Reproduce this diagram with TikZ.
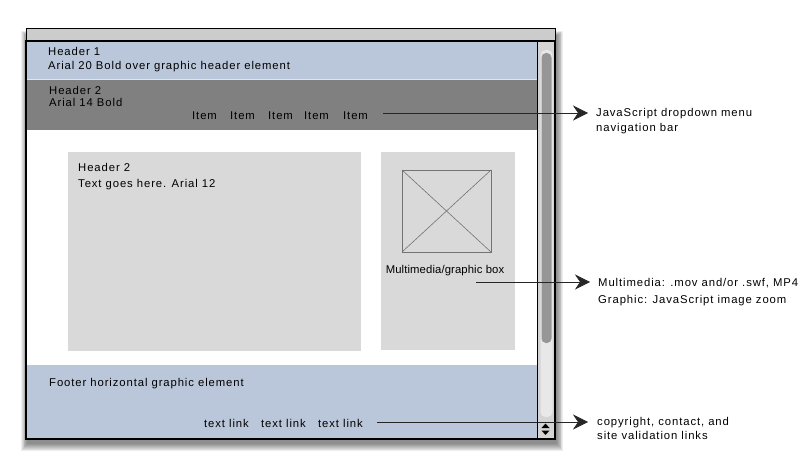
\documentclass[tikz,border=0pt]{standalone}
\usepackage{fontspec}
\setmainfont{Liberation Sans}[LetterSpace=8]
\newfontfamily\tightfont{Liberation Sans}[LetterSpace=1]
\usetikzlibrary{arrows.meta}
\definecolor{hdrblue}{RGB}{186,199,218}
\definecolor{navgray}{RGB}{128,128,128}
\definecolor{boxgray}{RGB}{217,217,217}
\definecolor{titlegray}{RGB}{204,204,204}
\definecolor{scrollbg}{RGB}{212,212,212}
\definecolor{groove}{RGB}{232,232,232}
\definecolor{thumb}{RGB}{150,150,150}
\begin{document}
\begin{tikzpicture}[x=1pt,y=-1pt,
  lbl/.style={anchor=base west, inner sep=0pt, font=\fontsize{11.3}{13}\selectfont},
  clbl/.style={anchor=base, inner sep=0pt, font=\fontsize{11.3}{13}\selectfont\tightfont},
  arr/.style={draw=black!85, line width=0.7pt, -{Stealth[length=15pt,width=15pt,inset=5pt]}},
  shadowlayer/.style={fill=black, opacity=0.07}]
\useasboundingbox (0,0) rectangle (804,468);
% shadow
\foreach \k in {1,...,8}{
  \fill[shadowlayer] (27.5-0.8*\k,36-0.6*\k) rectangle (556.5+0.8*\k,443+\k);
}
% window body and title bar
\fill[white] (26,41) rectangle (555,439);
\draw[fill=titlegray, line width=1pt] (26,29) rectangle (555,41);
% header bands
\fill[hdrblue] (27,41) rectangle (537,79);
\fill[navgray] (27,79) rectangle (537,130);
\draw[white!80!navgray, line width=0.5pt] (27,79.5) -- (537,79.5);
\fill[hdrblue] (27,365) rectangle (537,438);
% content boxes
\fill[boxgray] (68,152) rectangle (361,351);
\fill[boxgray] (381,152) rectangle (515,350);
\draw[black!55, line width=0.6pt] (402,170) rectangle (491,252);
\draw[black!55, line width=0.6pt] (402,170) -- (491,252) (402,252) -- (491,170);
% scrollbar
\fill[scrollbg] (537,41) rectangle (555,438);
\fill[groove, rounded corners=5pt] (540.5,50) rectangle (552.5,417);
\fill[thumb, rounded corners=4.5pt] (541.5,53) rectangle (551.5,343);
\fill[black] (541.5,428) -- (549.5,428) -- (545.5,423.5) -- cycle;
\fill[black] (541.5,430.5) -- (549.5,430.5) -- (545.5,435) -- cycle;
\draw[line width=1pt] (537,41) -- (537,438);
% window border
\draw[line width=1.2pt] (26,41) rectangle (555,439);
% header texts
\node[lbl] (h1a) at (48,56) {Header 1};
\node[lbl] (h1b) at (48,70) {Arial 20 Bold over graphic header element};
\node[lbl] (h2a) at (49,95) {Header 2};
\node[lbl] (h2b) at (49,107) {Arial 14 Bold};
\node[lbl] (it1) at (192,120) {Item};
\node[lbl] (it2) at (230,120) {Item};
\node[lbl] (it3) at (268,120) {Item};
\node[lbl] (it4) at (304,120) {Item};
\node[lbl] (it5) at (343,120) {Item};
% content texts
\node[lbl] (c2a) at (78,172) {Header 2};
\node[lbl] (c2b) at (78,188) {Text goes here. Arial 12};
\node[clbl] (mmbox) at (445,273) {Multimedia/graphic box};
% footer texts
\node[lbl] (foot) at (49,386) {Footer horizontal graphic element};
\node[lbl] (tl1) at (204,427) {text link};
\node[lbl] (tl2) at (261,427) {text link};
\node[lbl] (tl3) at (318,427) {text link};
% annotations
\node[lbl] (nava) at (596,117) {JavaScript dropdown menu};
\node[lbl] (navb) at (596,132) {navigation bar};
\node[lbl] (mma) at (598,286) {Multimedia: .mov and/or .swf, MP4};
\node[lbl] (mmb) at (598,303) {Graphic: JavaScript image zoom};
\node[lbl] (fta) at (597,425) {copyright, contact, and};
\node[lbl] (ftb) at (597,439) {site validation links};
% connectors
\coordinate (navfrom) at (383,113);
\coordinate (navto) at (588,113);
\coordinate (mmfrom) at (476,282);
\coordinate (mmto) at (590,282);
\coordinate (ftfrom) at (377,422);
\coordinate (ftto) at (588,422);
\draw[arr] (navfrom) -- (navto);
\draw[arr] (mmfrom) -- (mmto);
\draw[arr] (ftfrom) -- (ftto);
\end{tikzpicture}
\end{document}
